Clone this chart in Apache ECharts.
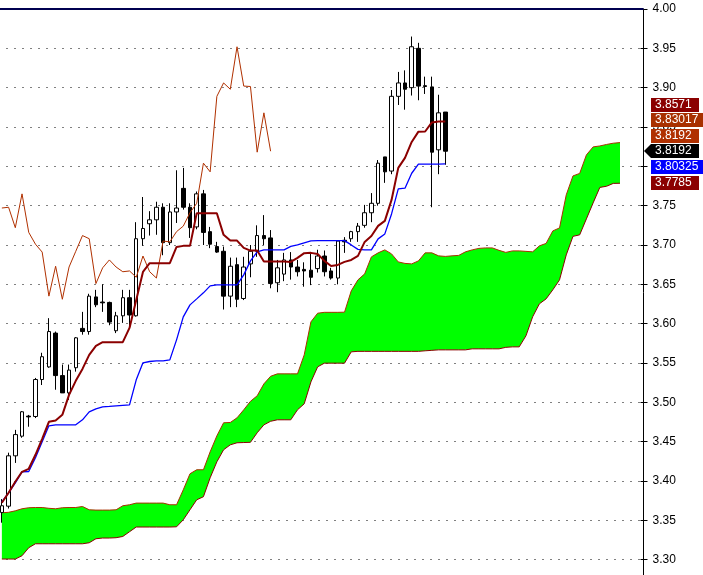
<!DOCTYPE html>
<html><head><meta charset="utf-8">
<script src="https://cdn.jsdelivr.net/npm/echarts@6/dist/echarts.min.js"></script>
<style>html,body{margin:0;padding:0;background:#fff}#c{width:703px;height:575px}</style>
</head><body><div id="c"></div>
<script>
// ---- data ----
const slotCount = 96;
const categories = Array.from({length: slotCount}, (_, i) => String(i));
const yTicks = {min: 3.25, max: 4.00, interval: 0.05};

const openP = [3.360,3.368,3.432,3.457,3.4825,3.482,3.529,3.545,3.588,3.534,3.512,3.544,3.594,3.590,3.634,3.6275,3.627,3.591,3.610,3.633,3.610,3.708,3.727,3.732,3.748,3.703,3.742,3.772,3.748,3.723,3.765,3.717,3.698,3.692,3.635,3.675,3.632,3.676,3.692,3.712,3.709,3.652,3.663,3.681,3.672,3.669,3.668,3.670,3.686,3.667,3.658,3.706,3.708,3.717,3.725,3.741,3.753,3.812,3.794,3.889,3.906,3.900,3.950,3.9025,3.901,3.821,3.869];
const closeP = [3.3685,3.432,3.459,3.488,3.4815,3.529,3.558,3.590,3.534,3.512,3.541,3.582,3.590,3.635,3.624,3.6265,3.602,3.610,3.633,3.611,3.708,3.721,3.732,3.748,3.703,3.742,3.747,3.748,3.722,3.765,3.716,3.701,3.691,3.635,3.673,3.631,3.672,3.692,3.712,3.708,3.651,3.671,3.681,3.672,3.666,3.667,3.659,3.686,3.666,3.658,3.705,3.704,3.717,3.724,3.741,3.753,3.804,3.793,3.889,3.906,3.898,3.952,3.902,3.9015,3.818,3.868,3.8192];
const lowP = [3.347,3.365,3.423,3.455,3.469,3.480,3.522,3.544,3.516,3.512,3.503,3.539,3.586,3.586,3.621,3.615,3.598,3.588,3.601,3.596,3.609,3.699,3.712,3.713,3.687,3.700,3.728,3.745,3.709,3.720,3.700,3.696,3.690,3.618,3.621,3.621,3.630,3.659,3.685,3.700,3.645,3.640,3.654,3.656,3.660,3.647,3.649,3.665,3.660,3.656,3.650,3.690,3.704,3.704,3.722,3.729,3.750,3.779,3.790,3.878,3.872,3.890,3.884,3.892,3.748,3.790,3.802];
const highP = [3.377,3.436,3.465,3.489,3.484,3.531,3.563,3.607,3.590,3.548,3.548,3.583,3.615,3.638,3.643,3.650,3.628,3.615,3.643,3.643,3.729,3.761,3.743,3.755,3.753,3.753,3.795,3.798,3.753,3.768,3.770,3.723,3.704,3.698,3.684,3.684,3.685,3.700,3.725,3.738,3.719,3.681,3.690,3.691,3.681,3.678,3.691,3.694,3.693,3.671,3.706,3.710,3.718,3.728,3.751,3.766,3.808,3.812,3.897,3.920,3.922,3.965,3.957,3.914,3.914,3.891,3.869];

const tenkan = [3.3723,3.3850,3.3990,3.4117,3.4155,3.4333,3.4536,3.4752,3.4769,3.4841,3.5095,3.5273,3.5425,3.5603,3.5718,3.5765,3.5765,3.5765,3.5765,3.5946,3.6302,3.6658,3.6769,3.6769,3.6769,3.6769,3.6976,3.6989,3.6989,3.7404,3.7404,3.7404,3.7404,3.7129,3.7056,3.7056,3.6963,3.6929,3.6929,3.6789,3.6789,3.6789,3.6789,3.6785,3.6836,3.6896,3.6900,3.6887,3.6798,3.6734,3.6747,3.6785,3.6810,3.6862,3.7039,3.7115,3.7243,3.7306,3.7573,3.7980,3.8107,3.8310,3.8441,3.8443,3.8558,3.8571,3.8571];
const kijun = [3.3736,3.3850,3.3977,3.4117,3.4121,3.4295,3.4498,3.4701,3.4714,3.4714,3.4714,3.4714,3.4778,3.4879,3.4917,3.4943,3.4949,3.4956,3.4962,3.4968,3.5286,3.5502,3.5519,3.5527,3.5527,3.5540,3.5794,3.6087,3.6239,3.6315,3.6392,3.6480,3.6493,3.6493,3.6493,3.6493,3.6620,3.6798,3.6913,3.6938,3.6938,3.6938,3.6938,3.6982,3.7001,3.7027,3.7052,3.7056,3.7056,3.7056,3.7056,3.7056,3.7001,3.6944,3.6938,3.6938,3.7078,3.7141,3.7395,3.7713,3.7722,3.7912,3.8027,3.8027,3.8027,3.8027,3.80325];
const senkouA = [3.3596,3.3602,3.3621,3.3647,3.3660,3.3663,3.3663,3.3653,3.3647,3.3660,3.3663,3.3663,3.3676,3.3634,3.3630,3.3630,3.3630,3.3634,3.3685,3.3698,3.3719,3.3719,3.3719,3.3719,3.3719,3.3698,3.3698,3.3888,3.4092,3.4143,3.4143,3.4371,3.4574,3.4740,3.4744,3.4803,3.4905,3.5013,3.5083,3.5235,3.5331,3.5362,3.5362,3.5362,3.5362,3.5603,3.6023,3.6133,3.6144,3.6144,3.6144,3.6146,3.6417,3.6557,3.6633,3.6849,3.6900,3.6938,3.6887,3.6785,3.6766,3.6760,3.6798,3.6900,3.6900,3.6862,3.6855,3.6862,3.6868,3.6913,3.6938,3.6957,3.6963,3.6963,3.6932,3.6906,3.6925,3.6925,3.6919,3.6913,3.6989,3.7020,3.7179,3.7217,3.7637,3.7878,3.7910,3.8145,3.8247,3.8259,3.8278,3.8294,3.83017];
const senkouB = [3.3008,3.3008,3.3008,3.3050,3.3152,3.3202,3.3202,3.3202,3.3202,3.3202,3.3202,3.3202,3.3202,3.3215,3.3266,3.3275,3.3275,3.3279,3.3295,3.3355,3.3415,3.3415,3.3415,3.3415,3.3415,3.3415,3.3418,3.3507,3.3634,3.3761,3.3800,3.4041,3.4244,3.4397,3.4460,3.4486,3.4489,3.4492,3.4613,3.4714,3.4759,3.4778,3.4778,3.4778,3.4905,3.4981,3.5260,3.5451,3.5498,3.5498,3.5498,3.5498,3.5642,3.5648,3.5648,3.5648,3.5648,3.5648,3.5648,3.5648,3.5648,3.5648,3.5648,3.5655,3.5661,3.5667,3.5667,3.5667,3.5667,3.5667,3.5680,3.5680,3.5680,3.5680,3.5680,3.5699,3.5705,3.5705,3.5845,3.6087,3.6252,3.6315,3.6430,3.6557,3.6874,3.7110,3.7129,3.7332,3.7535,3.7732,3.7747,3.7783,3.7785];
const chikouShift = 26;
const topLevel = 4.00;

// ---- colours ----
const C_TENKAN = '#8b0000', C_KIJUN = '#0000ff', C_CHIKOU = '#b03000';
const C_SA = '#a83000', C_SB = '#8b0000', C_CLOUD = '#00ff00';
const FONT = '"Liberation Sans", Arial, sans-serif';

// ---- derived series ----
const candles = openP.map((o, i) => [o, closeP[i], lowP[i], highP[i]]);
const chikou = closeP.slice(chikouShift);
const cloudLow = senkouA.map((a, i) => Math.min(a, senkouB[i]));
const cloudBand = senkouA.map((a, i) => Math.abs(a - senkouB[i]));

const chart = echarts.init(document.getElementById('c'), null, {renderer: 'canvas'});
const yBase = {
  type: 'value', position: 'right', min: yTicks.min, max: yTicks.max, interval: yTicks.interval, scale: true
};
chart.setOption({
  animation: false,
  backgroundColor: '#ffffff',
  grid: {left: -1.5, top: 9, width: 645, height: 590, containLabel: false, outerBoundsMode: 'none'},
  xAxis: {type: 'category', data: categories, boundaryGap: true, show: false},
  yAxis: [
    Object.assign({}, yBase, {
      axisLine: {show: true, lineStyle: {color: '#000', width: 1}},
      axisTick: {show: true, length: 4, lineStyle: {color: '#000'}},
      axisLabel: {show: true, color: '#000', fontSize: 12, fontFamily: FONT, margin: 9,
                  formatter: v => v.toFixed(2)},
      splitLine: {show: true, lineStyle: {color: '#000', width: 1, type: [1, 7]}}
    }),
    Object.assign({}, yBase, {
      axisLine: {show: false},
      axisTick: {show: true, inside: true, length: 3, lineStyle: {color: '#000'}},
      axisLabel: {show: false},
      splitLine: {show: false}
    })
  ],
  series: [
    {type: 'line', name: 'cloudLow', data: cloudLow, stack: 'cloud', showSymbol: false, symbol: 'none',
     lineStyle: {color: C_SB, width: 1}, z: 1, silent: true,
     markLine: {silent: true, symbol: 'none', label: {show: false},
                lineStyle: {color: '#000050', width: 2, type: 'solid'},
                data: [{yAxis: topLevel}]}},
    {type: 'line', name: 'cloudBand', data: cloudBand, stack: 'cloud', showSymbol: false, symbol: 'none',
     lineStyle: {color: C_SA, width: 1}, areaStyle: {color: C_CLOUD, opacity: 1}, z: 1, silent: true},
    {type: 'candlestick', name: 'price', data: candles, barWidth: 4, z: 3,
     itemStyle: {color: '#ffffff', color0: '#000000', borderColor: '#000000', borderColor0: '#000000', borderWidth: 1}},
    {type: 'line', name: 'chikou', data: chikou, showSymbol: false, symbol: 'none',
     lineStyle: {color: C_CHIKOU, width: 1}, z: 4},
    {type: 'line', name: 'kijun', data: kijun, showSymbol: false, symbol: 'none',
     lineStyle: {color: C_KIJUN, width: 1.3}, z: 5},
    {type: 'line', name: 'tenkan', data: tenkan, showSymbol: false, symbol: 'none',
     lineStyle: {color: C_TENKAN, width: 2}, z: 6}
  ]
});

// ---- right-side value labels ----
const last = a => a[a.length - 1];
const priceLabels = [
  {value: last(tenkan), text: '3.8571', bg: C_TENKAN},
  {value: last(senkouA), text: '3.83017', bg: C_SA},
  {value: last(chikou), text: '3.8192', bg: C_CHIKOU},
  {value: last(closeP), text: '3.8192', bg: '#000000', anchor: true},
  {value: last(kijun), text: '3.80325', bg: C_KIJUN},
  {value: last(senkouB), text: '3.7785', bg: C_SB}
];
function drawLabels() {
  const ctx = document.createElement('canvas').getContext('2d');
  ctx.font = '12px ' + FONT;
  const step = 15.5, x0 = 651;
  const items = priceLabels.map(l => Object.assign({}, l, {y: chart.convertToPixel({yAxisIndex: 0}, l.value)}));
  const ai = items.findIndex(l => l.anchor);
  items[ai].cy = items[ai].y;
  for (let i = ai - 1; i >= 0; i--) items[i].cy = Math.min(items[i].y, items[i + 1].cy - step);
  for (let i = ai + 1; i < items.length; i++) items[i].cy = Math.max(items[i].y, items[i - 1].cy + step);
  const els = [];
  items.forEach(l => {
    const w = Math.round(ctx.measureText(l.text).width + 11);
    const t = Math.round(l.cy - 7);
    if (l.anchor) {
      els.push({type: 'polygon', z: 100, silent: true,
        shape: {points: [[644, t + 7], [x0, t], [x0 + w, t], [x0 + w, t + 14], [x0, t + 14]]},
        style: {fill: l.bg}});
    } else {
      els.push({type: 'rect', z: 100, silent: true,
        shape: {x: x0, y: t, width: w, height: 14}, style: {fill: l.bg}});
    }
    els.push({type: 'text', z: 101, silent: true, x: x0 + 4, y: t + 7,
      style: {text: l.text, fill: '#ffffff', font: '12px ' + FONT,
              textVerticalAlign: 'middle', verticalAlign: 'middle', textAlign: 'left', align: 'left'}});
  });
  chart.setOption({graphic: {elements: els}});
}
drawLabels();
</script>
</body></html>
